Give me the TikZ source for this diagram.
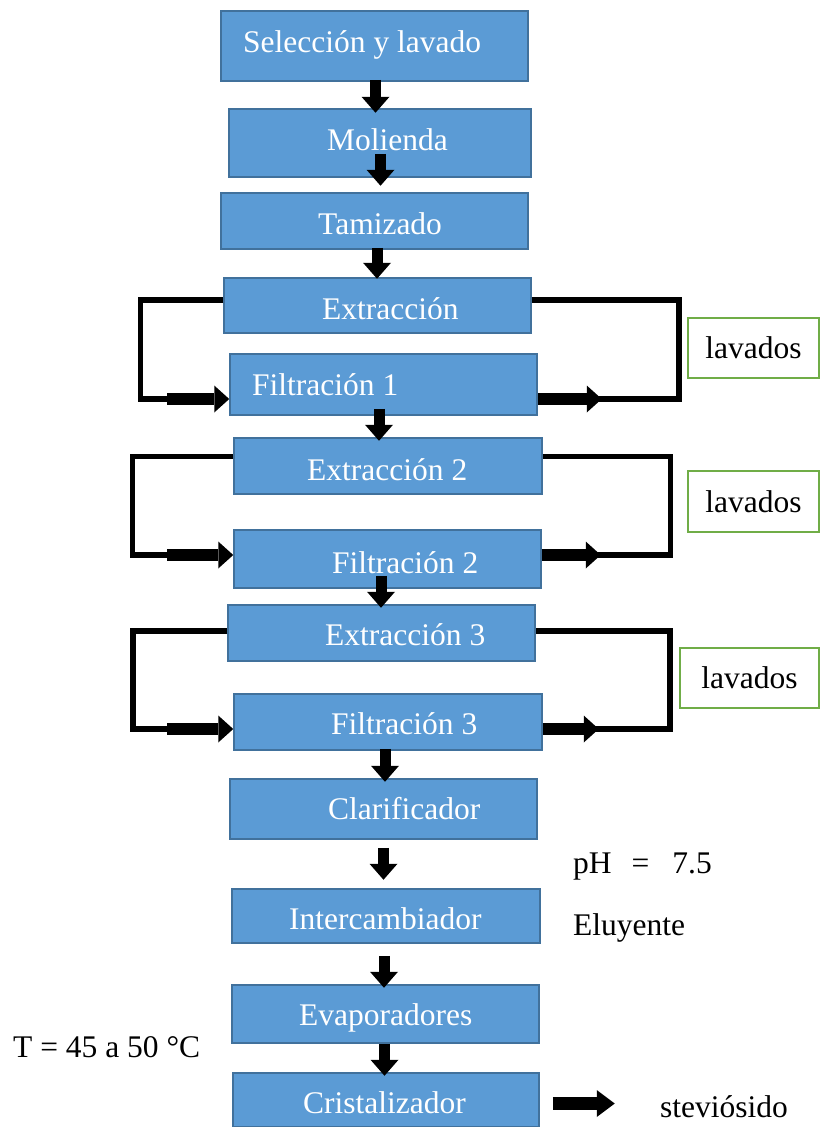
\documentclass[tikz,border=0pt]{standalone}
\usepackage{fontspec}
\setmainfont{Liberation Serif}
\usetikzlibrary{arrows.meta}
\definecolor{stagefill}{HTML}{5B9BD5}
\definecolor{stageline}{HTML}{41719C}
\definecolor{lavline}{HTML}{70AD47}
\newcommand{\txtsize}{\fontsize{31.5}{36}\selectfont}
\tikzset{
 stage/.style={draw=stageline, fill=stagefill, line width=1.5pt, inner sep=0pt},
 stagetxt/.style={text=white, font=\txtsize, anchor=base west, inner sep=0pt},
 lavbox/.style={draw=lavline, fill=white, line width=2pt, inner sep=0pt, font=\txtsize},
 note/.style={font=\txtsize, anchor=base west, inner sep=0pt},
 down/.style={line width=11pt, -{Triangle[width=28pt,length=16pt,line width=0pt]}},
 side/.style={line width=12.5pt, -{Triangle[width=27pt,length=15pt,line width=0pt]}},
 loopline/.style={line width=5.5pt, line join=miter},
}
\begin{document}
\begin{tikzpicture}[x=1pt,y=-1pt]
\useasboundingbox (0,0) rectangle (820,1127);
% etapas del proceso
\node[stage, minimum width=307pt, minimum height=70pt] (s1) at (374.5,46) {};
\node[stage, minimum width=302pt, minimum height=68pt] (s2) at (380,143) {};
\node[stage, minimum width=307pt, minimum height=56pt] (s3) at (374.5,221) {};
\node[stage, minimum width=307pt, minimum height=55pt] (s4) at (377.5,305.5) {};
\node[stage, minimum width=307pt, minimum height=61pt] (s5) at (383.5,384.5) {};
\node[stage, minimum width=308pt, minimum height=56pt] (s6) at (388,466) {};
\node[stage, minimum width=307pt, minimum height=58pt] (s7) at (387.5,559) {};
\node[stage, minimum width=307pt, minimum height=56pt] (s8) at (381.5,633) {};
\node[stage, minimum width=308pt, minimum height=56pt] (s9) at (388,722) {};
\node[stage, minimum width=307pt, minimum height=60pt] (s10) at (383.5,809) {};
\node[stage, minimum width=308pt, minimum height=54pt] (s11) at (386,916) {};
\node[stage, minimum width=307pt, minimum height=58pt] (s12) at (385.5,1014) {};
\node[stage, minimum width=306pt, minimum height=54pt] (s13) at (386,1100) {};
\node[stagetxt] (t1) at (243,52) {Selección y lavado};
\node[stagetxt] (t2) at (327,150) {Molienda};
\node[stagetxt] (t3) at (318,234) {Tamizado};
\node[stagetxt] (t4) at (322,319) {Extracción};
\node[stagetxt] (t5) at (252,395) {Filtración 1};
\node[stagetxt] (t6) at (307,480) {Extracción 2};
\node[stagetxt] (t7) at (332,573) {Filtración 2};
\node[stagetxt] (t8) at (325,645) {Extracción 3};
\node[stagetxt] (t9) at (331,734) {Filtración 3};
\node[stagetxt] (t10) at (328,819) {Clarificador};
\node[stagetxt] (t11) at (289,929) {Intercambiador};
\node[stagetxt] (t12) at (299,1025) {Evaporadores};
\node[stagetxt] (t13) at (303,1113) {Cristalizador};
% lavados
\node[lavbox, minimum width=131pt, minimum height=60pt] (lv1) at (753.5,348) {lavados};
\node[lavbox, minimum width=131pt, minimum height=61pt] (lv2) at (753.5,501.5) {lavados};
\node[lavbox, minimum width=139pt, minimum height=60pt] (lv3) at (749.5,678) {lavados};
% condiciones
\node[note] (ph) at (573,873) {pH\hspace{20pt}=\hspace{23pt}7.5};
\node[note] (elu) at (573,935) {Eluyente};
\node[note] (temp) at (13,1057) {T = 45 a 50 °C};
\node[note] (stev) at (660,1117) {steviósido};
% lazos
\coordinate (c1) at (140.5,399);
\coordinate (c2) at (679,399);
\coordinate (c3) at (132.5,555);
\coordinate (c4) at (670.5,555);
\coordinate (c5) at (133,729);
\coordinate (c6) at (670,729);
\draw[loopline] ([yshift=5.5pt]s4.west) -| (c1) -- ++(30,0);
\draw[loopline] ([yshift=5.5pt]s4.east) -| (c2) -- ++(-82,0);
\draw[loopline] ([yshift=9.5pt]s6.west) -| (c3) -- ++(38,0);
\draw[loopline] ([yshift=9.5pt]s6.east) -| (c4) -- ++(-74,0);
\draw[loopline] ([yshift=2pt]s8.west) -| (c5) -- ++(38,0);
\draw[loopline] ([yshift=2pt]s8.east) -| (c6) -- ++(-76,0);
\draw[side] ([xshift=26.5pt]c1) -- ([yshift=-14.5pt]s5.west);
\draw[side] ([yshift=-14.5pt]s5.east) -- ++(64,0);
\draw[side] ([xshift=34.5pt]c3) -- ([yshift=4pt]s7.west);
\draw[side] ([yshift=4pt]s7.east) -- ++(59,0);
\draw[side] ([xshift=34pt]c5) -- ([yshift=-7pt]s9.west);
\draw[side] ([yshift=-7pt]s9.east) -- ++(56,0);
% flechas
\draw[down] ([xshift=1pt,yshift=2pt]s1.south) -- ++(0,33);
\draw[down] ([xshift=0.5pt,yshift=24pt]s2.south) -- ++(0,32);
\draw[down] ([xshift=2.5pt,yshift=2pt]s3.south) -- ++(0,31);
\draw[down] ([xshift=-4.5pt,yshift=7pt]s5.south) -- ++(0,32);
\draw[down] ([xshift=-6.5pt,yshift=13pt]s7.south) -- ++(0,32);
\draw[down] ([xshift=-3pt,yshift=2pt]s9.south) -- ++(0,33);
\draw[down] ([yshift=-8pt]s10.south) -- ++(0,32);
\draw[down] ([xshift=-2pt,yshift=-12pt]s11.south) -- ++(0,32);
\draw[down] ([xshift=-1pt]s12.south) -- ++(0,32);
\draw[side, -{Triangle[width=27pt,length=18pt,line width=0pt]}] ([xshift=13pt,yshift=-3.5pt]s13.east) -- ++(62,0);
\end{tikzpicture}
\end{document}
